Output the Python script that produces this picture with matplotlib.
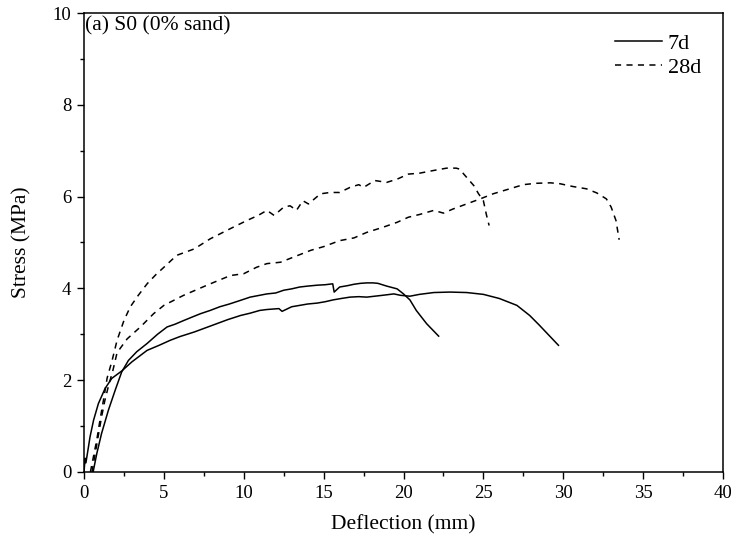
import matplotlib
matplotlib.use("Agg")
import matplotlib.pyplot as plt
from matplotlib.ticker import MultipleLocator

plt.rcParams['font.family'] = ['Liberation Serif', 'DejaVu Serif']

# 7d specimens
x7a = [0.57, 0.8, 1.1, 1.53, 1.95, 2.36, 2.78, 3.3, 3.95, 4.6, 5.2, 5.7, 6.24, 6.8, 7.3, 7.9,
       8.5, 9.1, 9.8, 10.4, 11.0, 11.45, 12.0, 12.5, 13.0, 13.5, 14.0, 14.6, 15.1, 15.57, 15.66,
       16.0, 16.5, 16.9, 17.3, 17.7, 18.1, 18.4, 18.95, 19.6, 20.0, 20.4, 20.8, 21.45, 22.2]
y7a = [0.0, 0.4, 0.84, 1.35, 1.78, 2.18, 2.43, 2.62, 2.8, 3.0, 3.16, 3.22, 3.3, 3.38, 3.45, 3.52,
       3.6, 3.66, 3.74, 3.81, 3.85, 3.88, 3.9, 3.96, 3.99, 4.03, 4.05, 4.07, 4.08, 4.1, 3.92,
       4.03, 4.06, 4.09, 4.11, 4.12, 4.12, 4.11, 4.05, 3.99, 3.88, 3.75, 3.52, 3.23, 2.96]

x7b = [0.0, 0.07, 0.12, 0.18, 0.38, 0.6, 0.9, 1.32, 1.74, 2.36, 3.0, 3.95, 4.7, 5.4, 6.0, 6.9,
       7.6, 8.3, 9.0, 9.8, 10.4, 11.0, 11.45, 12.2, 12.4, 13.0, 13.5, 14.0, 14.6, 15.1, 15.6,
       16.1, 16.65, 17.2, 17.7, 18.2, 18.7, 19.4, 19.8, 20.4, 21.0, 21.9, 22.9, 23.95, 25.0,
       26.0, 27.1, 27.9, 28.5, 29.1, 29.7]
y7b = [0.0, 0.3, 0.2, 0.33, 0.77, 1.13, 1.49, 1.82, 2.04, 2.2, 2.4, 2.65, 2.76, 2.87, 2.95, 3.05,
       3.14, 3.23, 3.32, 3.41, 3.46, 3.52, 3.54, 3.56, 3.5, 3.6, 3.63, 3.66, 3.68, 3.71, 3.75,
       3.78, 3.81, 3.82, 3.81, 3.83, 3.85, 3.88, 3.85, 3.83, 3.87, 3.91, 3.92, 3.91, 3.87,
       3.78, 3.63, 3.41, 3.2, 2.98, 2.76]

# 28d specimens
x28a = [0.4, 0.6, 0.8, 1.0, 1.22, 1.45, 1.76, 2.07, 2.5, 2.9, 3.4, 3.95, 4.5, 5.0, 5.8, 6.9,
        7.9, 9.15, 10.2, 10.9, 11.45, 11.9, 12.5, 12.9, 13.3, 13.7, 14.05, 14.8, 15.4, 16.0,
        16.65, 17.2, 17.5, 18.2, 18.95, 19.6, 20.3, 21.0, 21.9, 22.7, 23.3, 23.5, 23.95, 24.4,
        24.7, 25.0, 25.2, 25.36]
y28a = [0.0, 0.35, 0.7, 1.13, 1.57, 2.05, 2.43, 2.87, 3.3, 3.6, 3.85, 4.1, 4.3, 4.46, 4.72, 4.86,
        5.08, 5.3, 5.48, 5.59, 5.7, 5.59, 5.77, 5.8, 5.7, 5.91, 5.84, 6.06, 6.09, 6.09,
        6.2, 6.26, 6.2, 6.35, 6.31, 6.38, 6.49, 6.51, 6.57, 6.62, 6.62, 6.6, 6.42, 6.24,
        6.06, 5.91, 5.59, 5.37]

x28b = [0.5, 0.7, 0.9, 1.1, 1.3, 1.55, 1.8, 2.07, 2.7, 3.53, 4.36, 5.0, 6.24, 7.7, 9.16, 10.0,
        10.8, 11.45, 12.3, 13.1, 14.2, 15.0, 16.0, 16.9, 17.7, 18.7, 19.6, 20.3, 21.0, 21.9,
        22.5, 23.1, 23.95, 24.8, 25.6, 26.65, 27.5, 28.3, 29.2, 29.8, 30.6, 31.45, 32.1, 32.7,
        33.0, 33.3, 33.5]
y28b = [0.0, 0.4, 0.8, 1.2, 1.55, 1.9, 2.2, 2.6, 2.9, 3.16, 3.45, 3.63, 3.85, 4.07, 4.28, 4.32,
        4.46, 4.54, 4.57, 4.68, 4.83, 4.91, 5.04, 5.1, 5.22, 5.33, 5.44, 5.55, 5.61, 5.7,
        5.64, 5.73, 5.84, 5.95, 6.06, 6.17, 6.26, 6.29, 6.3, 6.28, 6.22, 6.17, 6.08, 5.95,
        5.77, 5.48, 5.06]

fig = plt.figure(figsize=(7.36, 5.44), dpi=100)
ax = fig.add_axes([84/736, 72/544, 639/736, 459/544])

lw = 1.1
dash = (0, (4, 3.5))
ax.plot(x7a, y7a, color='black', lw=lw, label='7d')
ax.plot(x7b, y7b, color='black', lw=lw)
ax.plot(x28a, y28a, color='black', lw=lw, linestyle=dash, label='28d')
ax.plot(x28b, y28b, color='black', lw=lw, linestyle=dash)

ax.set_xlim(0, 40)
ax.set_ylim(0, 10)
ax.xaxis.set_major_locator(MultipleLocator(5))
ax.xaxis.set_minor_locator(MultipleLocator(2.5))
ax.yaxis.set_major_locator(MultipleLocator(2))
ax.yaxis.set_minor_locator(MultipleLocator(1))
ax.tick_params(which='major', direction='out', length=5, width=1, labelsize=13.5, pad=4)
ax.tick_params(which='minor', direction='out', length=3, width=1)
for s in ax.spines.values():
    s.set_linewidth(1.1)

ax.set_xlabel('Deflection (mm)', fontsize=15.5, labelpad=10)
ax.set_ylabel('Stress (MPa)', fontsize=15.5, labelpad=15)

ax.text(85/736, 1 - 16/544, '(a) S0 (0% sand)', transform=fig.transFigure, fontsize=15.5,
        va='top', ha='left')

leg = ax.legend(loc='upper left', frameon=False, fontsize=16, handlelength=2.1,
                handletextpad=0.27, labelspacing=0.17, borderpad=0, borderaxespad=0,
                bbox_to_anchor=(615/736, 1 - 33/544), bbox_transform=fig.transFigure)

fig.savefig('out.png', dpi=100)
